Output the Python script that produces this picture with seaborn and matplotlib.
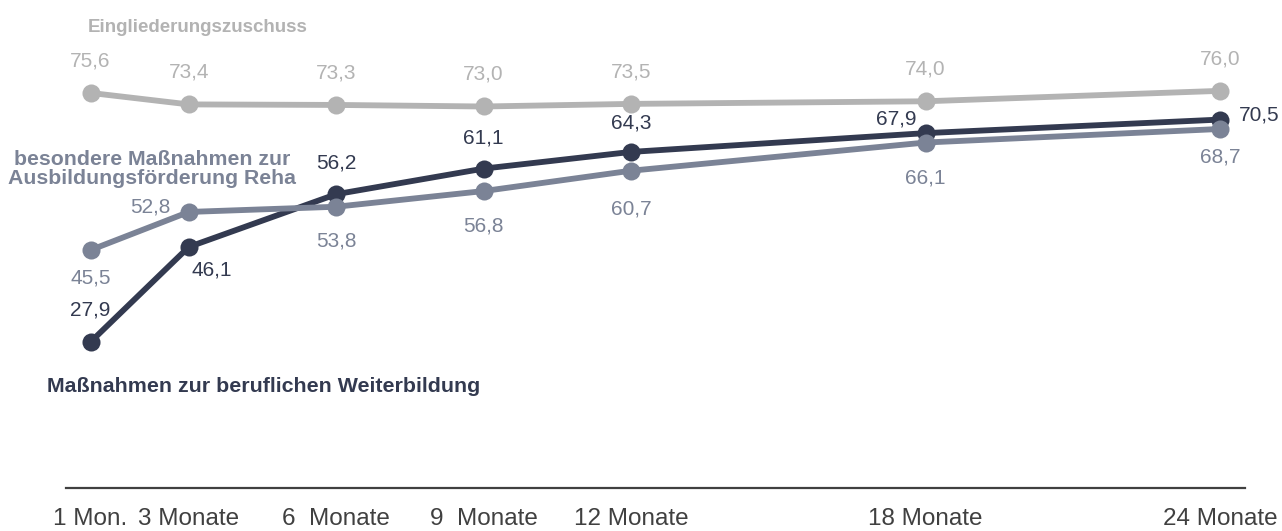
import matplotlib
matplotlib.use("Agg")
import matplotlib.pyplot as plt
import seaborn as sns
import pandas as pd

months = [1, 3, 6, 9, 12, 18, 24]
tick_labels = ["1 Mon.", "3 Monate", "6  Monate", "9  Monate", "12 Monate", "18 Monate", "24 Monate"]
eingliederung = [75.6, 73.4, 73.3, 73.0, 73.5, 74.0, 76.0]
weiterbildung = [27.9, 46.1, 56.2, 61.1, 64.3, 67.9, 70.5]
reha = [45.5, 52.8, 53.8, 56.8, 60.7, 66.1, 68.7]

names = ["Eingliederungszuschuss", "Maßnahmen zur beruflichen Weiterbildung",
         "besondere Maßnahmen zur Ausbildungsförderung Reha"]
colors = {names[0]: "#b3b3b3", names[1]: "#333a50", names[2]: "#7b8396"}

df = pd.concat([
    pd.DataFrame({"Monat": months, "Wert": eingliederung, "Serie": names[0]}),
    pd.DataFrame({"Monat": months, "Wert": weiterbildung, "Serie": names[1]}),
    pd.DataFrame({"Monat": months, "Wert": reha, "Serie": names[2]}),
])

sns.set_theme(style="white")
plt.rcParams["font.family"] = ["Liberation Sans", "DejaVu Sans"]

fig = plt.figure(figsize=(12.82, 5.31), dpi=100)
ax = fig.add_axes([66 / 1282, 1 - 487.6 / 531, (1245 - 66) / 1282, 487.6 / 531])

sns.lineplot(data=df, x="Monat", y="Wert", hue="Serie", hue_order=[names[0], names[1], names[2]],
             palette=colors, marker="o", markersize=13, markeredgewidth=0, linewidth=4.2,
             legend=False, ax=ax)

ax.set_xlim(0.5, 24.5)
ax.set_ylim(0, 93.4)
ax.set_xticks(months)
ax.set_xticklabels(tick_labels, fontsize=17.5, color="#404040")
ax.tick_params(axis="x", length=0, pad=14.5)
ax.set_yticks([])
ax.set_xlabel("")
ax.set_ylabel("")
for s in ["top", "left", "right"]:
    ax.spines[s].set_visible(False)
ax.spines["bottom"].set_color("#404040")
ax.spines["bottom"].set_linewidth(1.6)

fs = 15
def lab(x, y, v, dx, dy, color, ha="center"):
    ax.annotate(f"{v:.1f}".replace(".", ","), (x, y), xytext=(dx, dy), textcoords="offset pixels",
                ha=ha, va="center", fontsize=fs, color=color)

# Eingliederungszuschuss labels above
for x, v in zip(months, eingliederung):
    lab(x, v, v, 0, 32, colors[names[0]])

# Weiterbildung
wb_off = [(0, 32, "center"), (23, -23, "center"), (0, 31, "center"), (0, 31, "center"),
          (0, 29, "center"), (-29, 14, "center"), (18, 5, "left")]
for x, v, (dx, dy, ha) in zip(months, weiterbildung, wb_off):
    lab(x, v, v, dx, dy, colors[names[1]], ha)

# Reha
rh_off = [(0, -28, "center"), (-18, 5, "right"), (0, -34, "center"), (0, -35, "center"),
          (0, -38, "center"), (0, -35, "center"), (0, -28, "center")]
for x, v, (dx, dy, ha) in zip(months, reha, rh_off):
    lab(x, v, v, dx, dy, colors[names[2]], ha)

# Series labels
fig.text(88 / 1282, 1 - 28 / 531, "Eingliederungszuschuss", fontsize=13.5, fontweight="bold",
         color="#b3b3b3", ha="left", va="center")
fig.text(152 / 1282, 1 - 169 / 531, "besondere Maßnahmen zur\nAusbildungsförderung Reha",
         fontsize=15.3, fontweight="bold", color=colors[names[2]], ha="center", va="center",
         linespacing=1.05)
fig.text(47 / 1282, 1 - 387 / 531, "Maßnahmen zur beruflichen Weiterbildung", fontsize=15.4,
         fontweight="bold", color=colors[names[1]], ha="left", va="center")

fig.savefig("out.png", dpi=100)
